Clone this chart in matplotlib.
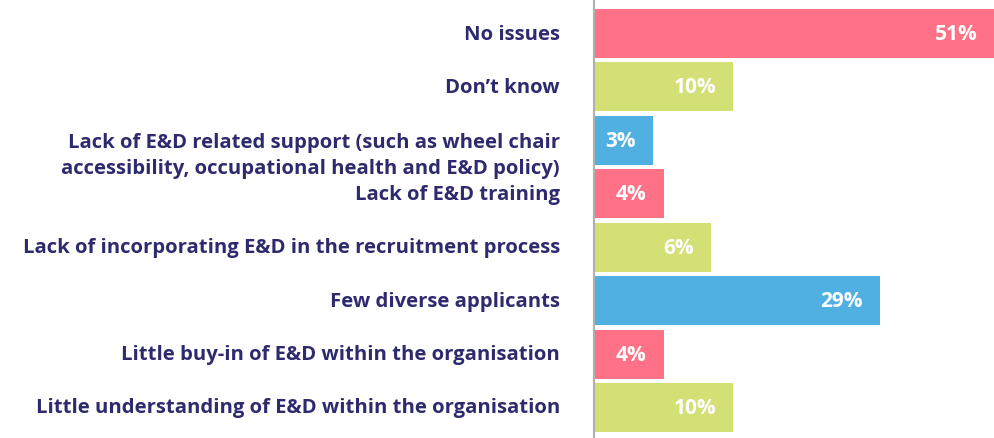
import numpy as np
import matplotlib
matplotlib.use("Agg")
import matplotlib.pyplot as plt

# data
categories = [
    "No issues",
    "Don\u2019t know",
    "Lack of E&D related support (such as wheel chair\naccessibility, occupational health and E&D policy)",
    "Lack of E&D training",
    "Lack of incorporating E&D in the recruitment process",
    "Few diverse applicants",
    "Little buy-in of E&D within the organisation",
    "Little understanding of E&D within the organisation",
]
values = [51, 10, 3, 4, 6, 29, 4, 10]
colors = ["#ff7186", "#d4df76", "#50b0e2", "#ff7186",
          "#d4df76", "#50b0e2", "#ff7186", "#d4df76"]

# the source chart does not draw bars linearly; this scale reproduces its bar lengths
scale_v = [0, 3, 4, 6, 10, 29, 51]
scale_len = [0, 58.7, 69.7, 117, 139.7, 286.7, 402]


def fwd(x):
    return np.interp(x, scale_v, scale_len)


def inv(x):
    return np.interp(x, scale_len, scale_v)


plt.rcParams['font.family'] = ['Open Sans', 'DejaVu Sans']

fig = plt.figure(figsize=(9.95, 4.39), dpi=100)
ax = fig.add_axes([594 / 995, 0, 401 / 995, 1])
ax.set_xscale('function', functions=(fwd, inv))

y = np.arange(len(values))
ax.barh(y, values, height=0.917, color=colors)
ax.set_xlim(0, 51)
ax.set_ylim(7.571, -0.646)

for i, v in enumerate(values):
    ax.annotate(f"{v}%", xy=(v, i), xytext=(-17, 0), textcoords='offset pixels',
                ha='right', va='center', color='white', fontsize=15,
                fontweight='bold')

navy = "#2e2a6e"
for i, c in enumerate(categories):
    if "\n" in c:
        ax.annotate(c, xy=(0, i), xycoords=('axes fraction', 'data'),
                    xytext=(-34, 8), textcoords='offset pixels',
                    ha='right', va='top', multialignment='right',
                    color=navy, fontsize=14.6, fontweight='bold',
                    linespacing=1.4)
    else:
        ax.annotate(c, xy=(0, i), xycoords=('axes fraction', 'data'),
                    xytext=(-34, 0), textcoords='offset pixels',
                    ha='right', va='center', color=navy, fontsize=14.6,
                    fontweight='bold')

ax.set_xticks([])
ax.set_yticks([])
for s in ['top', 'right', 'bottom']:
    ax.spines[s].set_visible(False)
ax.spines['left'].set_color('#b0b0b0')
ax.spines['left'].set_linewidth(1.5)

fig.savefig("out.png", dpi=100)
